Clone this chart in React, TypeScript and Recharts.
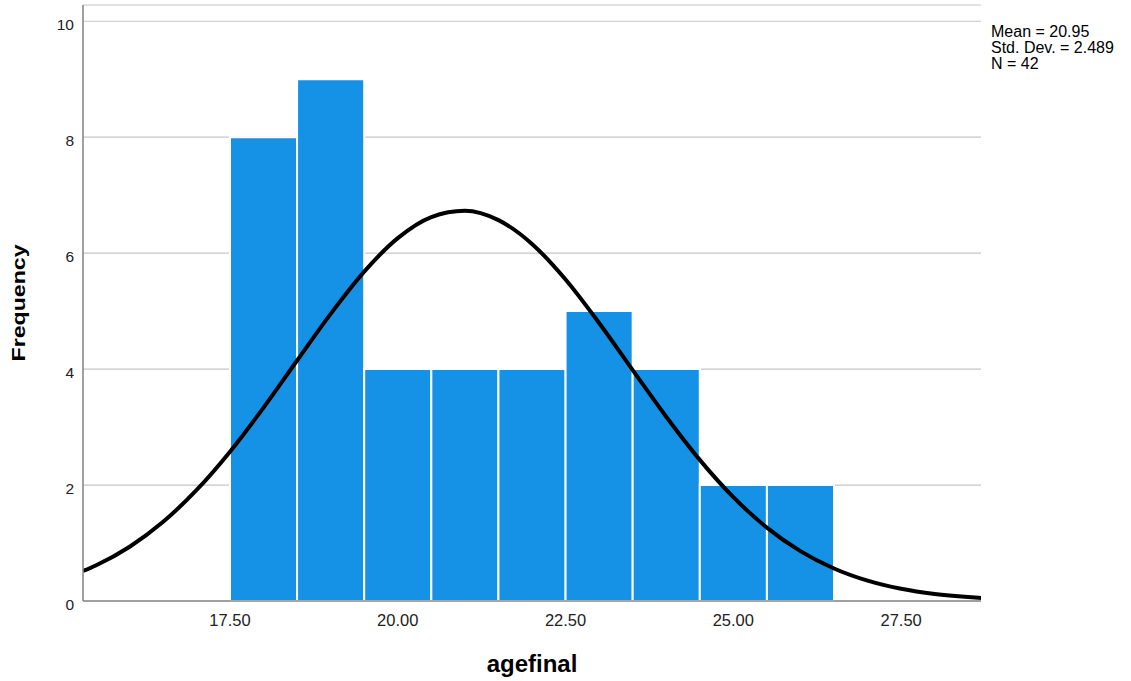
import React from 'react';
import {
  ComposedChart,
  XAxis,
  YAxis,
  CartesianGrid,
  Line,
  ReferenceArea,
  Label,
  Customized,
} from 'recharts';

// Histogram bins of agefinal (bin width 1)
const binStarts = [17.5, 18.5, 19.5, 20.5, 21.5, 22.5, 23.5, 24.5, 25.5];
const binEnds = [18.5, 19.5, 20.5, 21.5, 22.5, 23.5, 24.5, 25.5, 26.5];
const frequencies = [8, 9, 4, 4, 4, 5, 4, 2, 2];

// Normal curve overlay
const curveX = [
  15.31, 15.5, 16, 16.5, 17, 17.5, 18, 18.5, 19, 19.5, 20, 20.5, 21, 21.5, 22,
  22.5, 23, 23.5, 24, 24.5, 25, 25.5, 26, 26.5, 27, 27.5, 28, 28.5, 28.69,
];
const curveY = [
  0.517, 0.613, 0.932, 1.362, 1.911, 2.576, 3.336, 4.148, 4.953, 5.681, 6.259,
  6.623, 6.731, 6.57, 6.159, 5.545, 4.795, 3.983, 3.178, 2.434, 1.791, 1.266,
  0.86, 0.561, 0.351, 0.211, 0.122, 0.068, 0.053,
];

const xTicks = [17.5, 20, 22.5, 25, 27.5];
const yTicks = [0, 2, 4, 6, 8, 10];
const xDomain = [15.31, 28.69];
const yDomain = [0, 10.28];

const statsLines = ['Mean = 20.95', 'Std. Dev. = 2.489', 'N = 42'];
const xTitle = 'agefinal';
const yTitle = 'Frequency';

const FONT = '"Liberation Sans", Arial, Helvetica, sans-serif';
const BAR_COLOR = '#1591E6';

const curveData = curveX.map((x, i) => ({ x, y: curveY[i] }));

const XTick = (props: any) => {
  const { x, y, payload } = props;
  return (
    <text
      x={x}
      y={y + 25}
      textAnchor="middle"
      fontFamily={FONT}
      fontSize={16.5}
      fill="#222"
    >
      {Number(payload.value).toFixed(2)}
    </text>
  );
};

const YTick = (props: any) => {
  const { x, y, payload } = props;
  return (
    <text
      x={x - 9}
      y={y + 9}
      textAnchor="end"
      fontFamily={FONT}
      fontSize={15.5}
      fill="#222"
    >
      {payload.value}
    </text>
  );
};

const renderXTitle = (p: any) => {
  const vb = p.viewBox || {};
  return (
    <text
      x={vb.x + vb.width / 2}
      y={vb.y + 71}
      textAnchor="middle"
      fontFamily={FONT}
      fontWeight="bold"
      fontSize={24}
      fill="#000"
    >
      {xTitle}
    </text>
  );
};

const renderYTitle = (p: any) => {
  const vb = p.viewBox || {};
  const cx = vb.x + 25;
  const cy = vb.y + vb.height / 2;
  return (
    <text
      x={cx}
      y={cy}
      transform={`rotate(-90, ${cx}, ${cy})`}
      textAnchor="middle"
      fontFamily={FONT}
      fontWeight="bold"
      fontSize={18}
      textLength={117}
      lengthAdjust="spacingAndGlyphs"
      fill="#000"
    >
      {yTitle}
    </text>
  );
};

const Stats = () => (
  <g>
    {statsLines.map((s, i) => (
      <text
        key={s}
        x={991}
        y={37 + i * 16}
        fontFamily={FONT}
        fontSize={16}
        fill="#000"
      >
        {s}
      </text>
    ))}
  </g>
);

export default function App() {
  return (
    <div style={{ position: 'absolute', left: 0, top: 0, background: '#fff' }}>
      <ComposedChart
        width={1131}
        height={681}
        margin={{ top: 5, right: 150, bottom: 0, left: 0 }}
      >
        <CartesianGrid
          vertical={false}
          horizontal
          stroke="#c6c6c6"
          strokeWidth={1.2}
        />
        <XAxis
          type="number"
          dataKey="x"
          domain={xDomain}
          allowDataOverflow
          ticks={xTicks}
          interval={0}
          height={80}
          tickLine={false}
          tickSize={0}
          tickMargin={0}
          axisLine={{ stroke: '#888', strokeWidth: 1.6 }}
          tick={<XTick />}
        >
          <Label content={renderXTitle} />
        </XAxis>
        <YAxis
          type="number"
          domain={yDomain}
          allowDataOverflow
          ticks={yTicks}
          interval={0}
          width={83}
          tickLine={false}
          tickSize={0}
          tickMargin={0}
          axisLine={{ stroke: '#888', strokeWidth: 1.6 }}
          tick={<YTick />}
        >
          <Label content={renderYTitle} />
        </YAxis>
        {frequencies.map((f, i) => (
          <ReferenceArea
            key={i}
            x1={binStarts[i]}
            x2={binEnds[i]}
            y1={0}
            y2={f}
            fill={BAR_COLOR}
            fillOpacity={1}
            stroke="#ffffff"
            strokeWidth={2}
            ifOverflow="visible"
          />
        ))}
        <Line
          data={curveData}
          dataKey="y"
          type="monotone"
          stroke="#000"
          strokeWidth={4}
          dot={false}
          activeDot={false}
          isAnimationActive={false}
        />
        <Customized component={Stats} />
      </ComposedChart>
    </div>
  );
}
